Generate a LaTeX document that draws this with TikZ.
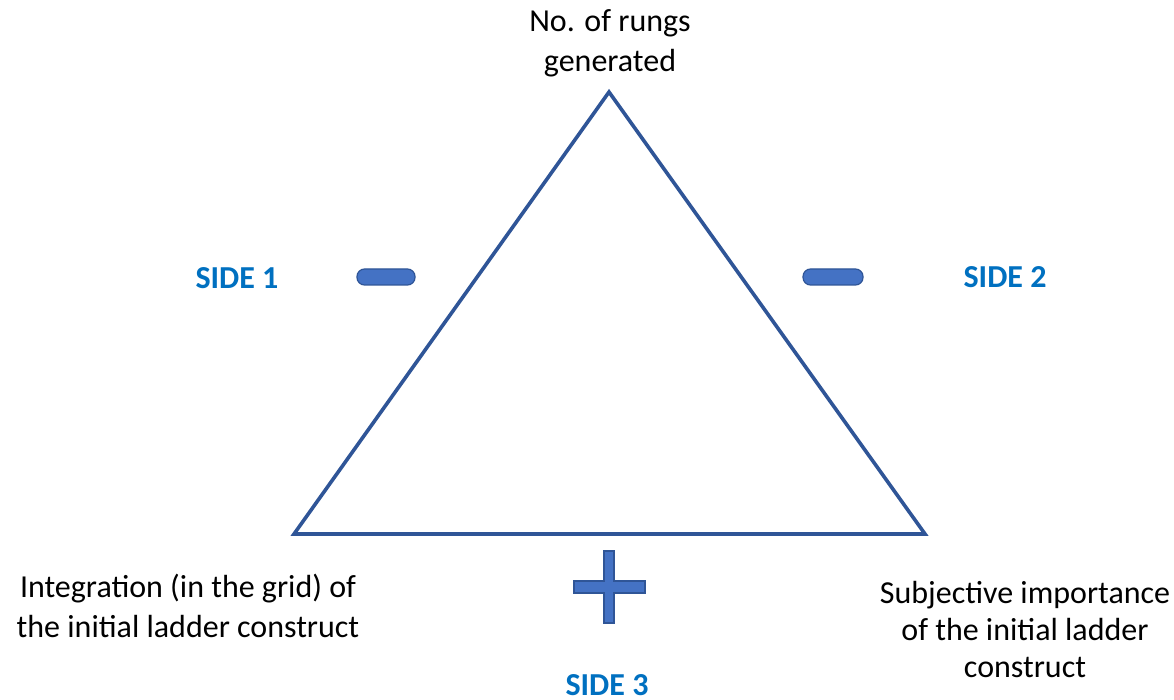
\documentclass[tikz,border=0pt]{standalone}
\usepackage{fontspec}
\setmainfont{Carlito}
\usetikzlibrary{positioning}
\definecolor{kante}{HTML}{2F5597}
\definecolor{fuell}{HTML}{4472C4}
\definecolor{seite}{HTML}{0070C0}
\def\gross{\fontsize{32}{40}\selectfont}

\begin{document}
\begin{tikzpicture}[x=1pt,y=-1pt,line join=miter]
\useasboundingbox (0,0) rectangle (1174,700);

\tikzset{
	ecke/.style={font=\gross,align=center,inner sep=0pt},
	seitenname/.style={font=\gross\bfseries,text=seite,inner sep=0pt},
	zeichen/.style={fill=fuell,draw=kante,line width=1.2pt}
}

% Dreieck
\coordinate (top) at (609,92);
\coordinate (links) at (294,534);
\coordinate (rechts) at (925,534);
\draw[color=kante,line width=3.6pt] (top)--(rechts)--(links)--cycle;

% Eckenbeschriftung
\node[ecke] (oben) at (610,43) {No. of rungs\\generated};
\node[ecke] (untenlinks) at (188,606) {Integration (in the grid) of\\the initial ladder construct};
\node[ecke,font=\fontsize{32}{37}\selectfont] (untenrechts) at (1025,630) {Subjective importance\\of the initial ladder\\construct};

% Seiten
\node[seitenname] (side1) at (237,278) {SIDE 1};
\node[seitenname] (side2) at (1005,277) {SIDE 2};
\node[seitenname] (side3) at (607,685) {SIDE 3};

% Vorzeichen
\draw[zeichen,rounded corners=7.5pt] (357,269) rectangle (415,285);
\draw[zeichen,rounded corners=7.5pt] (803,269) rectangle (863,285);
\draw[zeichen] (604,551)--(614,551)--(614,581)--(645,581)--(645,593)--(614,593)
	--(614,623)--(604,623)--(604,593)--(574,593)--(574,581)--(604,581)--cycle;

\end{tikzpicture}
\end{document}
